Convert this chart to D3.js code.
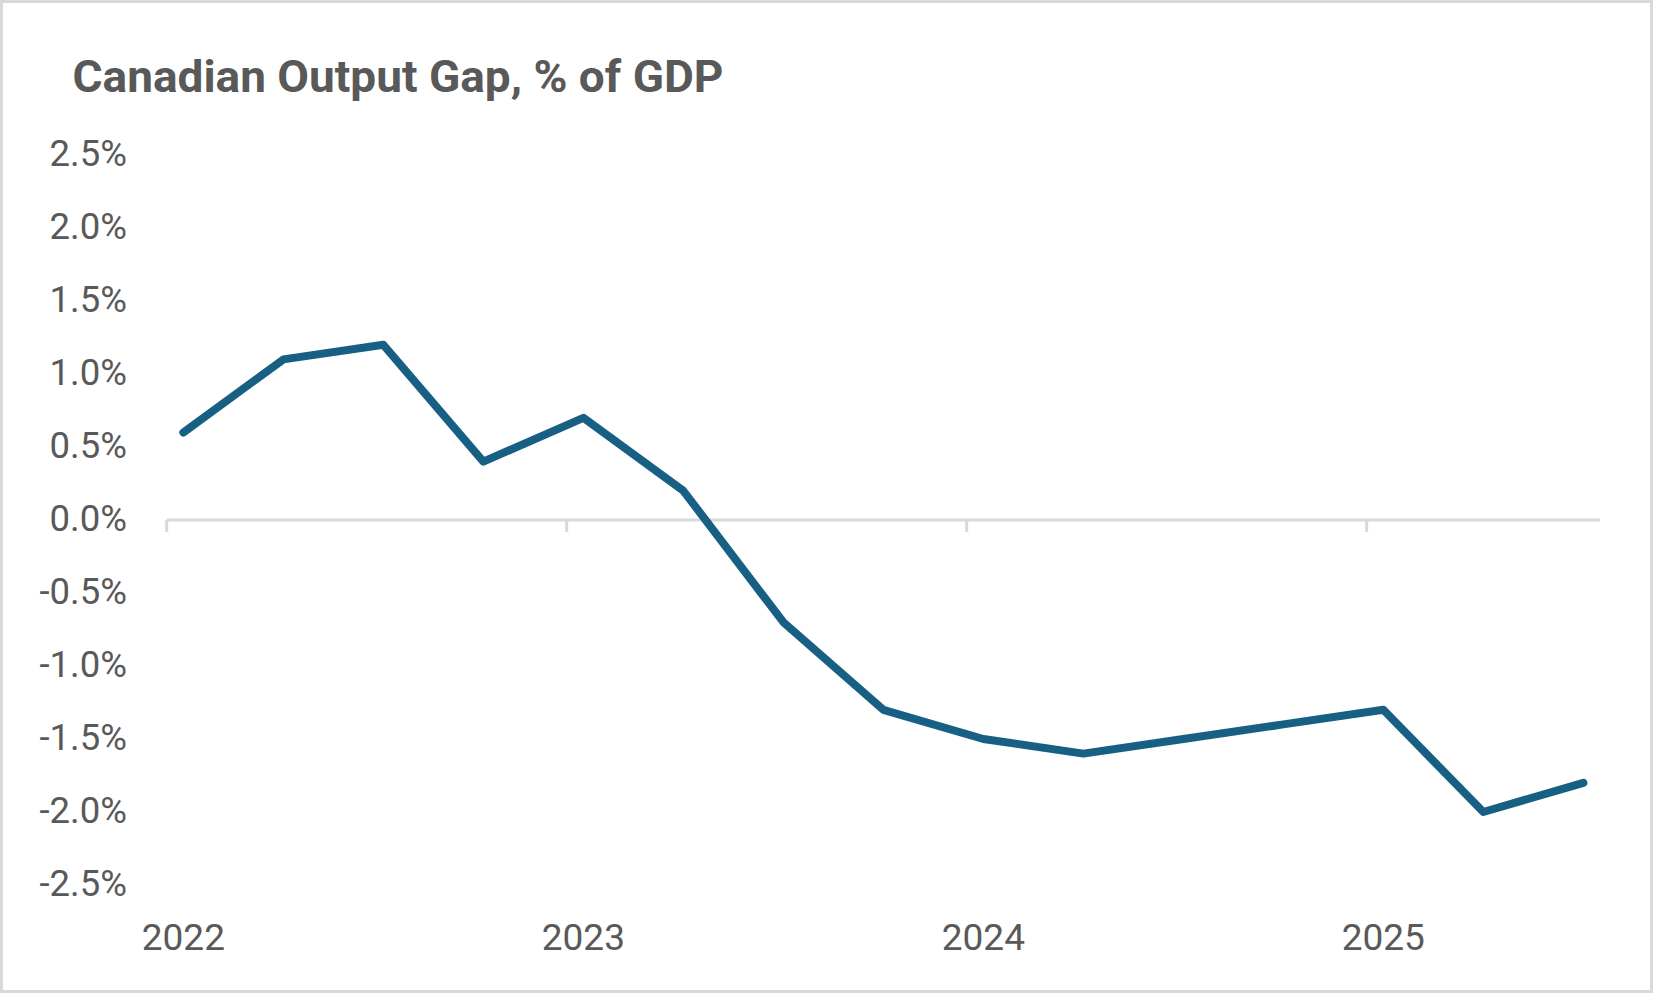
<!DOCTYPE html>
<html>
<head>
<meta charset="utf-8">
<script src="https://cdn.jsdelivr.net/npm/d3@7"></script>
<style>
  html, body { margin: 0; padding: 0; background: #fff; }
  svg { display: block; }
</style>
</head>
<body>
<div id="chart"></div>
<script>
// quarterly observations (first month of each quarter)
const quarters = ["2022-01", "2022-04", "2022-07", "2022-10",
                  "2023-01", "2023-04", "2023-07", "2023-10",
                  "2024-01", "2024-04", "2024-07", "2024-10",
                  "2025-01", "2025-04", "2025-07"];
const outputGap = [0.6, 1.1, 1.2, 0.4,
                   0.7, 0.2, -0.7, -1.3,
                   -1.5, -1.6, -1.5, -1.4,
                   -1.3, -2.0, -1.8];
const yTicks = [2.5, 2.0, 1.5, 1.0, 0.5, 0.0, -0.5, -1.0, -1.5, -2.0, -2.5];
const yearLabels = ["2022", "2023", "2024", "2025"];

const W = 1653, H = 993;
const textColor = "#595959";
const gridColor = "#d9d9d9";
const lineColor = "#176083";
const startYear = 2022;

// months since Jan 2022
function monthIndex(s) {
    const [yy, mm] = s.split("-").map(Number);
    return (yy - startYear) * 12 + (mm - 1);
}

const svg = d3.select("#chart").append("svg")
    .attr("width", W)
    .attr("height", H);

// outer frame
svg.append("rect")
    .attr("x", 1.5).attr("y", 1.5)
    .attr("width", W - 3).attr("height", H - 3)
    .attr("fill", "#fff")
    .attr("stroke", gridColor)
    .attr("stroke-width", 3);

// title
svg.append("text")
    .attr("x", 72.5)
    .attr("y", 91.5)
    .attr("font-family", "Roboto, 'Noto Sans', sans-serif")
    .attr("font-weight", 700)
    .attr("font-size", 45)
    .attr("fill", textColor)
    .attr("textLength", 651)
    .attr("lengthAdjust", "spacingAndGlyphs")
    .text("Canadian Output Gap, % of GDP");

// month slots, points sit in the middle of their month
const nMonths = monthIndex(quarters[quarters.length - 1]) + 1;
const x = d3.scaleLinear()
    .domain([0, nMonths])
    .range([166.7, 1600]);

const y = d3.scaleLinear()
    .domain([-2.5, 2.5])
    .range([885, 155]);

const fmt = d => d.toFixed(1) + "%";

// y axis labels (no line)
svg.append("g")
    .selectAll("text")
    .data(yTicks)
    .enter().append("text")
    .attr("x", 127)
    .attr("y", d => y(d) + 11)
    .attr("text-anchor", "end")
    .attr("font-family", "Roboto, sans-serif")
    .attr("font-size", 36.5)
    .attr("fill", textColor)
    .text(d => fmt(d));

// horizontal axis at zero with year ticks
const xAxis = svg.append("g")
    .attr("transform", "translate(0," + y(0) + ")");

xAxis.append("line")
    .attr("x1", x(0)).attr("x2", x(nMonths))
    .attr("stroke", gridColor)
    .attr("stroke-width", 3);

xAxis.selectAll(".tick")
    .data(yearLabels)
    .enter().append("line")
    .attr("class", "tick")
    .attr("x1", (d, i) => x(i * 12)).attr("x2", (d, i) => x(i * 12))
    .attr("y1", 0).attr("y2", 12)
    .attr("stroke", gridColor)
    .attr("stroke-width", 3);

// year labels along the bottom
svg.append("g")
    .selectAll("text")
    .data(yearLabels)
    .enter().append("text")
    .attr("x", (d, i) => x(i * 12 + 0.5))
    .attr("y", 950)
    .attr("text-anchor", "middle")
    .attr("font-family", "Roboto, sans-serif")
    .attr("font-size", 37)
    .attr("fill", textColor)
    .text(d => d);

// the series
const line = d3.line()
    .x(d => x(monthIndex(d.q) + 0.5))
    .y(d => y(d.v));

const series = quarters.map((q, i) => ({ q: q, v: outputGap[i] }));

svg.append("path")
    .datum(series)
    .attr("d", line)
    .attr("fill", "none")
    .attr("stroke", lineColor)
    .attr("stroke-width", 8)
    .attr("stroke-linecap", "round")
    .attr("stroke-linejoin", "round");
</script>
</body>
</html>
